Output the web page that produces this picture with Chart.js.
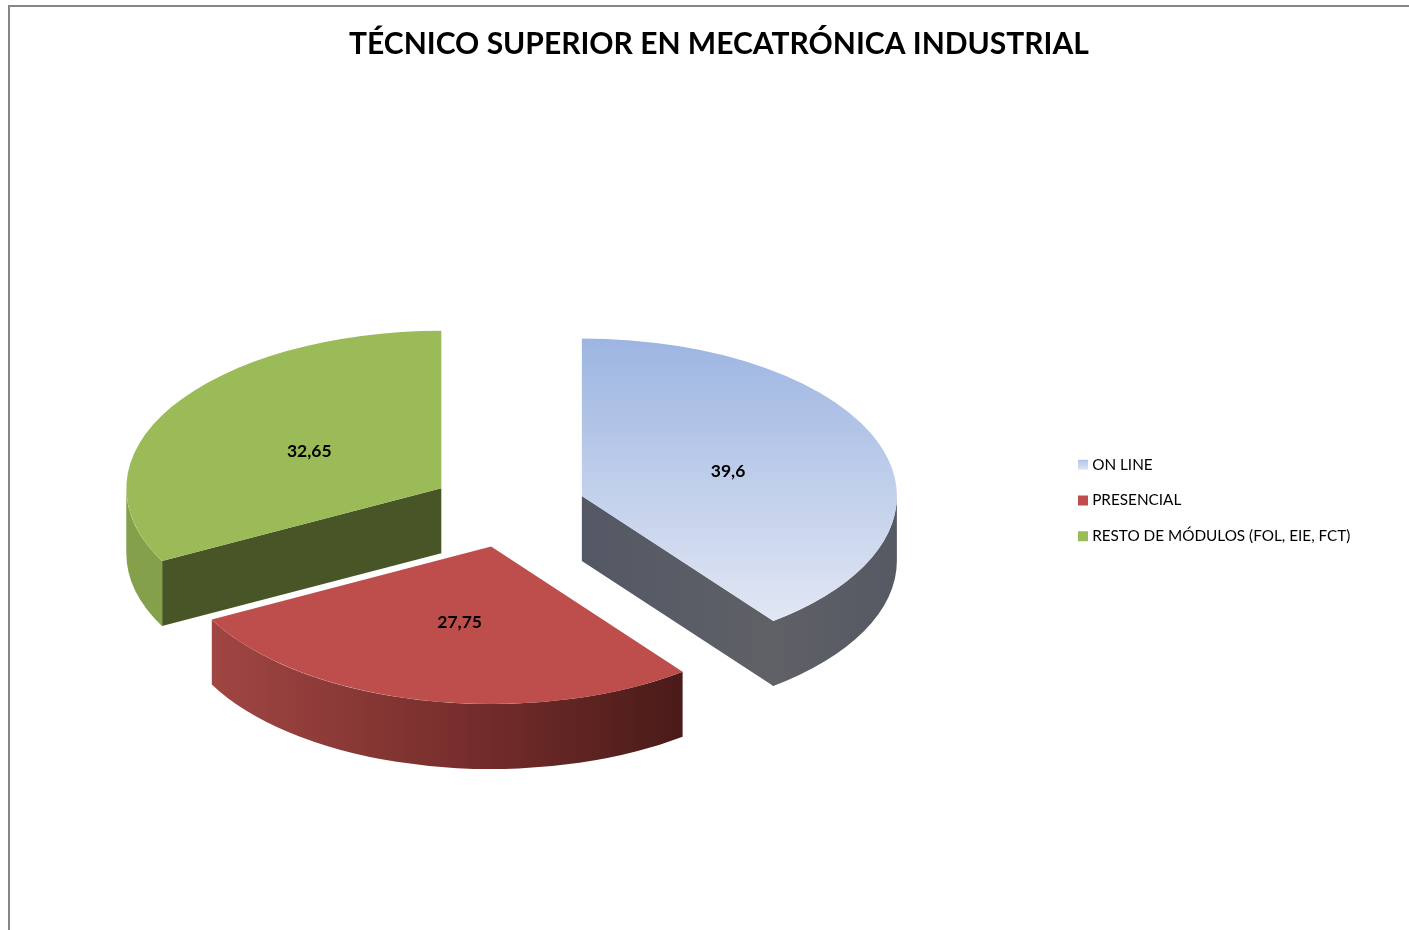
<!DOCTYPE html>
<html>
<head>
<meta charset="utf-8">
<title>Técnico Superior en Mecatrónica Industrial</title>
<script src="https://cdn.jsdelivr.net/npm/chart.js@4/dist/chart.umd.min.js"></script>
<style>
  html, body { margin: 0; height: 100%; background: #fff; overflow: hidden; }
  #frame {
    position: absolute; left: 8px; top: 5px; width: 1422px; height: 991px;
    box-sizing: border-box; border: 2px solid #868686;
  }
  canvas { display: block; }
</style>
</head>
<body>
<div id="frame"><canvas id="chart" width="1418" height="987"></canvas></div>
<script>
const titleText = 'TÉCNICO SUPERIOR EN MECATRÓNICA INDUSTRIAL';
const categories = ['ON LINE', 'PRESENCIAL', 'RESTO DE MÓDULOS (FOL, EIE, FCT)'];
const values = [39.6, 27.75, 32.65];

const topColors = ['#a0b8e2', '#be4e4b', '#9bbb59'];

// --- Look of the tilted pie, in page pixels inside the canvas ---
const pieCenterX = 498;
const pieCenterY = 501.5;
const pieRadius = 315;
const tilt = 0.5;
const explode = 78;
const depth = 65;
const labelPos = 0.49;
const labelNudgeX = [0, 2, 0];
const labelNudgeY = [0, 0, 3];
const legendX = 1071.5;

function sideGradient(ctx, arc, index) {
  const g = ctx.createLinearGradient(arc.x - pieRadius, 0, arc.x + pieRadius, 0);
  if (index === 0) {
    g.addColorStop(0.5, '#535865');
    g.addColorStop(0.8, '#5f6166');
    g.addColorStop(1, '#555963');
  } else if (index === 1) {
    g.addColorStop(0.057, '#a04643');
    g.addColorStop(0.47, '#752d2b');
    g.addColorStop(0.803, '#4a1b19');
  } else {
    g.addColorStop(0, '#85a04a');
    g.addColorStop(1, '#85a04a');
  }
  return g;
}

// flat wall from the centre to the rim at angle a
function drawCut(ctx, arc, a, fill) {
  const d = depth / tilt;
  const ex = arc.x + Math.cos(a) * pieRadius;
  const ey = arc.y + Math.sin(a) * pieRadius;
  ctx.beginPath();
  ctx.moveTo(arc.x, arc.y);
  ctx.lineTo(ex, ey);
  ctx.lineTo(ex, ey + d);
  ctx.lineTo(arc.x, arc.y + d);
  ctx.closePath();
  ctx.fillStyle = fill;
  ctx.fill();
}

function drawSlice(ctx, arc, index) {
  const mid = (arc.startAngle + arc.endAngle) / 2;
  const d = depth / tilt;
  const overlap = 0.003; // hides the seam between cut face and rim
  ctx.save();
  ctx.translate(Math.cos(mid) * explode, Math.sin(mid) * explode);

  let a0 = Math.max(arc.startAngle, 0);
  let a1 = Math.min(arc.endAngle, Math.PI);

  // only the walls facing the viewer
  const cutFill = index === 2 ? '#485627' : sideGradient(ctx, arc, index);
  if (Math.cos(arc.startAngle) < -0.01) {
    drawCut(ctx, arc, arc.startAngle, cutFill);
    a0 -= overlap;
  }
  if (Math.cos(arc.endAngle) > 0.01) {
    drawCut(ctx, arc, arc.endAngle, cutFill);
    a1 += overlap;
  }

  // outer wall, front half of the rim only
  ctx.beginPath();
  ctx.arc(arc.x, arc.y, pieRadius, a0, a1);
  ctx.arc(arc.x, arc.y + d, pieRadius, a1, a0, true);
  ctx.closePath();
  ctx.fillStyle = sideGradient(ctx, arc, index);
  ctx.fill();

  // top face, blue one fades downwards
  if (index === 0) {
    const g = ctx.createLinearGradient(0, arc.y - pieRadius, 0, arc.y + pieRadius * 0.8);
    g.addColorStop(0, '#9cb5e1');
    g.addColorStop(1, '#e2e7f4');
    arc.options = Object.assign({}, arc.options, { backgroundColor: g });
  }
  arc.draw(ctx);
  ctx.restore();
}

const tiltedPie = {
  id: 'tiltedPie',
  afterLayout(chart) {
    const legend = chart.legend;
    const w = legend.right - legend.left;
    legend.left = legendX - legend.options.labels.padding;
    legend.right = legend.left + w;
  },
  beforeDraw(chart) {
    // swatch of the first legend entry has the same fade as the slice
    const box = chart.legend.legendHitBoxes[0];
    const g = chart.ctx.createLinearGradient(0, box.top, 0, box.top + 12);
    g.addColorStop(0, '#a3bae3');
    g.addColorStop(1, '#dde4f3');
    chart.legend.legendItems[0].fillStyle = g;
  },
  beforeDatasetDraw(chart, args) {
    const ctx = chart.ctx;
    const arcs = args.meta.data;
    ctx.save();
    ctx.translate(pieCenterX, pieCenterY);
    ctx.scale(1, tilt);
    ctx.translate(-arcs[0].x, -arcs[0].y);
    arcs.forEach((arc, i) => drawSlice(ctx, arc, i));
    ctx.restore();

    // value labels
    ctx.save();
    ctx.font = 'bold 17.5px Lato';
    ctx.fillStyle = '#000';
    ctx.textAlign = 'center';
    ctx.textBaseline = 'middle';
    arcs.forEach((arc, i) => {
      const mid = (arc.startAngle + arc.endAngle) / 2;
      const r = explode + pieRadius * labelPos;
      ctx.fillText(String(values[i]).replace('.', ','),
        pieCenterX + Math.cos(mid) * r + labelNudgeX[i],
        pieCenterY + Math.sin(mid) * r * tilt + labelNudgeY[i]);
    });
    ctx.restore();
    return false;
  }
};

new Chart(document.getElementById('chart'), {
  type: 'pie',
  data: {
    labels: categories,
    datasets: [{
      data: values,
      backgroundColor: topColors,
      borderWidth: 0,
      radius: pieRadius
    }]
  },
  plugins: [tiltedPie],
  options: {
    responsive: false,
    animation: false,
    plugins: {
      title: {
        display: true,
        text: titleText,
        color: '#000',
        font: { family: 'Lato', size: 30, weight: 'bold' },
        padding: { top: 19, bottom: 16 }
      },
      legend: {
        position: 'right',
        labels: {
          usePointStyle: true,
          pointStyle: 'rect',
          boxWidth: 3,
          boxHeight: 10,
          padding: 20.5,
          color: '#1a1a1a',
          font: { family: 'Lato', size: 15.3 },
          generateLabels: () => categories.map((text, i) => ({
            text,
            fillStyle: topColors[i],
            pointStyle: 'rect',
            lineWidth: 0,
            hidden: false,
            index: i
          }))
        }
      },
      tooltip: { enabled: false }
    }
  }
});
</script>
</body>
</html>
